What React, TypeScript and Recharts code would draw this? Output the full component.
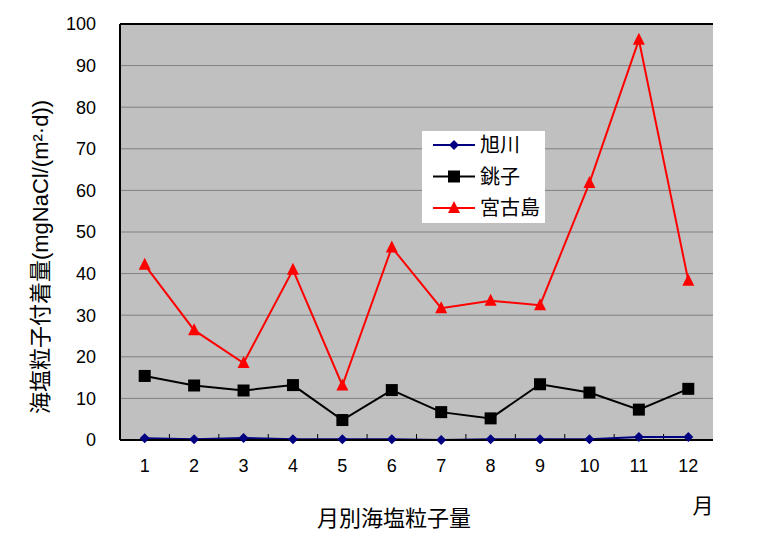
import { LineChart, Line, XAxis, YAxis, CartesianGrid, ReferenceLine, Legend } from 'recharts';

const months = ['1', '2', '3', '4', '5', '6', '7', '8', '9', '10', '11', '12'];
const asahikawa = [0.4, 0.2, 0.5, 0.2, 0.2, 0.2, 0.0, 0.2, 0.2, 0.2, 0.7, 0.7];
const choshi = [15.4, 13.1, 11.9, 13.2, 4.8, 12.0, 6.7, 5.2, 13.4, 11.4, 7.3, 12.3];
const miyakojima = [42.1, 26.4, 18.5, 40.9, 13.1, 46.3, 31.7, 33.5, 32.4, 61.8, 96.2, 38.3];
const yTicks = [0, 10, 20, 30, 40, 50, 60, 70, 80, 90, 100];

const data = months.map((m, i) => ({
  month: m,
  asahikawa: asahikawa[i],
  choshi: choshi[i],
  miyakojima: miyakojima[i],
}));

const FONT = '"Liberation Sans", Arial, "Noto Sans CJK JP", sans-serif';
const NAVY = '#000080';
const RED = '#FF0000';
const CHART_W = 763;
const CHART_H = 547;
const Y_AXIS_W = 120;
const RIGHT_M = 50;
const BAND = (CHART_W - Y_AXIS_W - RIGHT_M) / months.length;

const Diamond = ({ cx, cy, fill }: any) => (
  <path d={`M${cx},${cy - 5}L${cx + 5},${cy}L${cx},${cy + 5}L${cx - 5},${cy}Z`} fill={fill} />
);
const Square = ({ cx, cy, fill }: any) => <rect x={cx - 6} y={cy - 6} width={12} height={12} fill={fill} />;
const Triangle = ({ cx, cy, fill }: any) => (
  <path d={`M${cx},${cy - 7}L${cx + 6},${cy + 5}L${cx - 6},${cy + 5}Z`} fill={fill} />
);

const series = [
  { key: 'asahikawa', name: '旭川', color: NAVY, Marker: Diamond },
  { key: 'choshi', name: '銚子', color: '#000000', Marker: Square },
  { key: 'miyakojima', name: '宮古島', color: RED, Marker: Triangle },
];

// short inward tick at the left edge of a category band
const BandEdgeTick = (p: any) => {
  if (p == null || p.x1 == null || p.y1 == null || p.y2 == null) return <g />;
  const x = Number(p.x1) - BAND / 2;
  const bottom = Math.max(Number(p.y1), Number(p.y2));
  return <line x1={x} x2={x} y1={bottom - 1} y2={bottom - 6} stroke="#000" strokeWidth={1} />;
};

const LegendBox = () => (
  <svg width={123} height={92} style={{ display: 'block', background: '#fff' }}>
    {series.map((s, i) => {
      const y = 14 + i * 31.5;
      return (
        <g key={s.key}>
          <line x1={11} x2={53} y1={y} y2={y} stroke={s.color} strokeWidth={2} />
          <s.Marker cx={32} cy={y} fill={s.color} />
          <text x={58} y={y + 7} fontSize={20} fontFamily={FONT} fill="#000">
            {s.name}
          </text>
        </g>
      );
    })}
  </svg>
);

const YTitle = () => (
  <text
    x={40}
    y={257}
    transform="rotate(-90 40 257)"
    textAnchor="middle"
    dominantBaseline="central"
    fontSize={22}
    fontFamily={FONT}
    fill="#000"
  >
    海塩粒子付着量(mgNaCl/(m²·d))
  </text>
);

export default function App() {
  return (
    <div style={{ position: 'absolute', left: 0, top: 0, width: CHART_W, height: CHART_H, background: '#fff' }}>
      <LineChart width={CHART_W} height={CHART_H} data={data} margin={{ top: 24, right: RIGHT_M, bottom: 0, left: 0 }}>
        <CartesianGrid fill="#C0C0C0" stroke="#808080" vertical={false} horizontalValues={yTicks} />
        <XAxis
          dataKey="month"
          interval={0}
          height={107}
          padding={{ left: BAND / 2, right: BAND / 2 }}
          tickLine={false}
          tickSize={0}
          tickMargin={19}
          axisLine={{ stroke: '#000', strokeWidth: 2 }}
          tick={{ fill: '#000', fontSize: 18, fontFamily: FONT }}
        />
        <YAxis
          width={Y_AXIS_W}
          domain={[0, 100]}
          ticks={yTicks}
          interval={0}
          tickLine={false}
          tickSize={0}
          tickMargin={24}
          axisLine={{ stroke: '#000', strokeWidth: 2 }}
          tick={{ fill: '#000', fontSize: 18, fontFamily: FONT }}
          label={<YTitle />}
        />
        <YAxis
          yAxisId="right"
          orientation="right"
          width={0}
          domain={[0, 100]}
          tick={false}
          tickLine={false}
          axisLine={{ stroke: '#000', strokeWidth: 2 }}
        />
        <ReferenceLine y={100} stroke="#000" strokeWidth={2} />
        {months.slice(1).map((m) => (
          <ReferenceLine key={`edge-${m}`} x={m} stroke="#000" shape={BandEdgeTick} />
        ))}
        <Legend
          layout="vertical"
          align="center"
          verticalAlign="middle"
          content={<LegendBox />}
          wrapperStyle={{ position: 'absolute', left: 422, top: 131, width: 123, height: 92 }}
        />
        {series.map((s) => (
          <Line
            key={s.key}
            type="linear"
            dataKey={s.key}
            name={s.name}
            stroke={s.color}
            strokeWidth={2}
            isAnimationActive={false}
            activeDot={false}
            dot={(p: any) => <s.Marker key={`${s.key}-${p.index}`} cx={p.cx} cy={p.cy} fill={s.color} />}
          />
        ))}
        <text x={394} y={518} textAnchor="middle" dominantBaseline="central" fontSize={22} fontFamily={FONT} fill="#000">
          月別海塩粒子量
        </text>
        <text x={703} y={505} textAnchor="middle" dominantBaseline="central" fontSize={21} fontFamily={FONT} fill="#000">
          月
        </text>
      </LineChart>
    </div>
  );
}
